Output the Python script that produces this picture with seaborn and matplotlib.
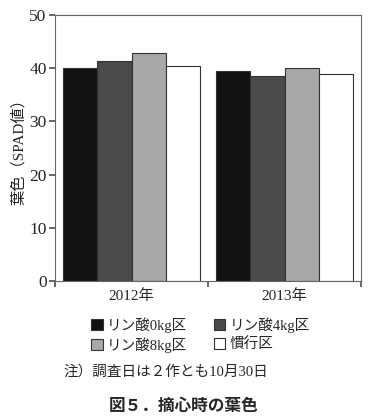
import matplotlib
matplotlib.use("Agg")
import matplotlib.pyplot as plt
import seaborn as sns
import pandas as pd
from matplotlib.patches import Patch

years = ["2012年", "2013年"]
treatments = ["リン酸0kg区", "リン酸4kg区", "リン酸8kg区", "慣行区"]
v2012 = [40.1, 41.35, 42.8, 40.5]
v2013 = [39.4, 38.5, 40.0, 39.0]
colors = ["#111111", "#4a4a4a", "#a8a8a8", "#ffffff"]

rows = []
for y, vals in zip(years, [v2012, v2013]):
    for t, v in zip(treatments, vals):
        rows.append({"year": y, "treat": t, "val": v})
df = pd.DataFrame(rows)

sns.set_theme(style="white")
plt.rcParams['font.family'] = ['Liberation Serif', 'Noto Sans CJK JP']

fig = plt.figure(figsize=(3.78, 4.2), dpi=100)
ax = fig.add_axes([55/378, 1-281/420, (361-55)/378, (281-15)/420])
sns.barplot(data=df, x="year", y="val", hue="treat", palette=colors,
            width=0.9, edgecolor="#333333", linewidth=0.8, ax=ax, legend=False,
            saturation=1)
ax.set_ylim(0, 50)
ax.set_xlim(-0.5, 1.5)
ax.set_yticks([0, 10, 20, 30, 40, 50])
ax.tick_params(axis='y', labelsize=12.5, direction='out', length=4, color="#555555", left=True, pad=2)
ax.set_xticks([-0.5, 0.5, 1.5])
ax.set_xticklabels(["", "", ""])
ax.tick_params(axis='x', which='major', direction='out', length=4, color="#555555", bottom=True)
ax.set_xticks([0, 1], minor=True)
ax.set_xticklabels(years, minor=True, fontsize=11)
ax.tick_params(axis='x', which='minor', length=0, pad=6)
for s in ax.spines.values():
    s.set_color("#666666")
    s.set_linewidth(0.8)
ax.set_xlabel("")
ax.set_ylabel("葉色（SPAD値）", fontsize=11, labelpad=2)

order = [0, 2, 1, 3]
handles = [Patch(facecolor=colors[i], edgecolor="#333333", linewidth=0.8) for i in order]
labels = [treatments[i] for i in order]
fig.legend(handles, labels, loc="center left", bbox_to_anchor=(78/378, 1-335/420),
           ncol=2, frameon=False, fontsize=10.5, handlelength=0.8, handleheight=0.8,
           handletextpad=0.3, columnspacing=1.8, labelspacing=0.3)
fig.text(63/378, 1-372/420, "注）調査日は２作とも10月30日", fontsize=10.5, va="center", ha="left")
fig.text(184/378, 1-406/420, "図５．摘心時の葉色", fontsize=12, va="center", ha="center",
         family=['Noto Sans CJK JP'], fontweight='bold')
fig.savefig("out.png", dpi=100)
